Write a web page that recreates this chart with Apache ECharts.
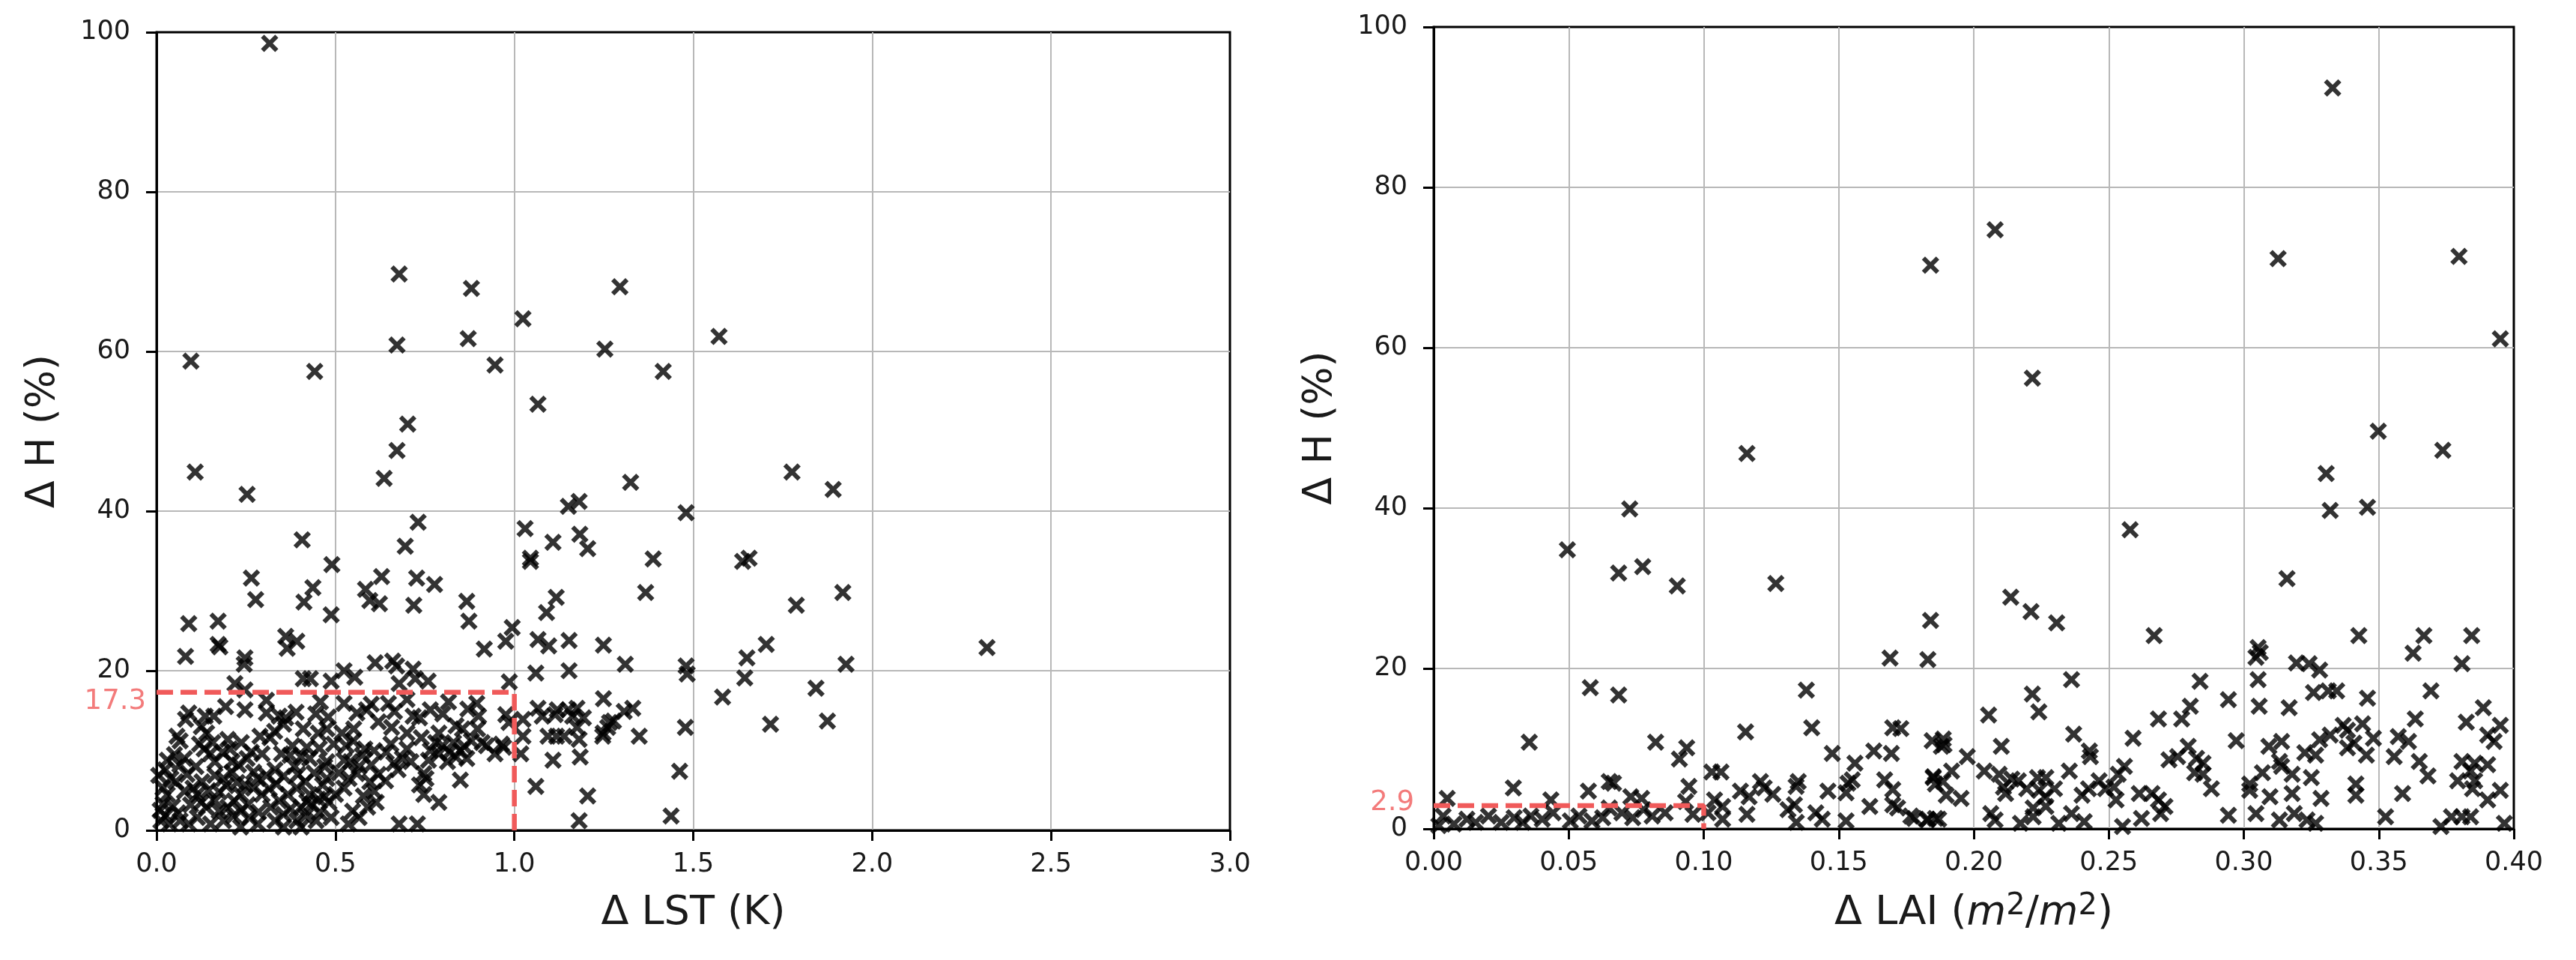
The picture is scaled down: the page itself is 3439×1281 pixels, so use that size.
<!DOCTYPE html>
<html>
<head>
<meta charset="utf-8">
<script src="https://cdn.jsdelivr.net/npm/echarts@6/dist/echarts.min.js"></script>
<style>
html,body{margin:0;padding:0;background:#fff;}
#chart{width:3439px;height:1281px;}
</style>
</head>
<body>
<div id="chart"></div>
<script>
// ---- data: left panel (Δ LST [K], Δ H [%]) ----
const lstPoints = [
[0.316,98.6],[0.678,69.7],[0.880,67.9],[1.295,68.1],[1.024,64.1],[0.672,60.8],[0.871,61.6],[0.096,58.8],[0.442,57.5],[0.946,58.3],[1.253,60.3],[1.416,57.5],[1.066,53.4],[0.702,50.9],[0.672,47.6],[1.572,61.9],
[0.108,44.9],[0.253,42.1],[0.636,44.1],[1.325,43.6],[0.407,36.4],[0.731,38.6],[0.695,35.6],[1.030,37.8],[1.045,34.1],[1.045,33.7],[1.108,36.1],[1.181,41.2],[1.151,40.6],[1.183,37.1],[1.205,35.3],[1.388,34.0],[0.490,33.3],[0.265,31.6],[0.277,28.9],[0.437,30.4],[0.412,28.6],[0.584,30.2],[0.596,28.8],[0.629,31.8],[0.623,28.4],[0.727,31.6],[0.719,28.2],[0.777,30.8],[1.117,29.2],[1.090,27.3],[1.367,29.8],[0.867,28.7],[0.873,26.2],[0.488,27.0],[0.090,25.9],[0.172,26.2],[0.081,21.8],[0.172,23.3],[0.177,23.0],[0.361,24.3],[0.392,23.7],[0.365,22.8],[0.916,22.7],[0.976,23.7],[0.994,25.4],[1.066,23.9],[1.096,23.1],[1.153,23.8],[1.249,23.2],[1.310,20.8],[0.247,21.6],[0.245,20.8],[0.611,21.0],[0.660,21.2],[0.671,20.6],[0.717,20.2],[1.060,19.7],[1.153,20.0],[0.524,20.0],[0.554,19.2],[0.410,19.0],[0.430,19.0],[0.488,18.7],[0.723,19.0],[0.759,18.7],[0.678,18.4],[0.986,18.6],[0.219,18.4],[0.247,17.6],
[1.249,16.5],[0.816,16.1],[0.307,16.3],[0.458,16.1],[0.524,15.9],[0.648,15.9],[0.895,15.9],[0.193,15.5],[1.066,15.3],[1.120,15.1],[1.151,15.1],[1.175,15.3],[1.331,15.3],[1.307,14.9],[0.247,15.1],[0.090,14.7],[0.136,14.3],[0.160,14.3],[0.081,13.9],[0.307,14.7],[0.343,14.3],[0.361,14.1],[0.560,14.7],[0.587,15.1],[0.665,14.9],[0.717,14.3],[0.735,14.1],[0.765,15.1],[0.900,14.3],[0.976,14.5],[0.985,13.5],[1.024,13.9],[1.078,14.3],[1.114,14.5],[1.163,14.3],[1.193,14.1],[1.277,13.7],[1.261,12.9],[1.247,11.8],[1.349,11.8],[0.355,13.3],[0.410,12.7],[0.452,12.2],[0.476,12.7],[0.518,12.2],[0.551,12.7],[0.657,12.9],[0.789,12.2],[0.837,13.1],[0.855,12.7],[0.897,12.7],[1.175,12.9],[1.024,11.8],[1.094,11.8],[1.118,11.8],[1.139,11.8],[1.181,11.4],[0.057,11.8],[0.066,11.2],[0.289,11.8],[0.317,11.6],[0.120,10.8],[0.157,11.0],[0.199,11.4],[0.237,11.0],[0.295,9.6],[0.133,10.2],[0.150,9.6],[0.078,9.0],[0.163,8.6],[0.211,8.6],[0.253,9.0],[0.349,9.6],[0.373,9.4],[0.404,9.2],[0.428,9.0],[0.476,8.6],[0.470,8.0],[0.386,8.0],[0.331,7.6],[0.307,6.9],[0.582,10.2],[0.608,10.0],[0.642,9.8],[0.687,9.0],[0.711,8.6],[0.663,8.4],[0.675,7.6],[0.765,10.0],[0.789,9.6],[0.819,9.8],[0.837,9.2],[0.813,8.6],[0.849,10.0],[0.867,9.0],[0.910,11.0],[0.922,10.6],[0.946,9.6],[0.964,10.8],[0.970,10.4],[1.018,9.6],[1.108,8.8],[1.184,9.2],[0.524,8.8],[0.542,8.6],[0.566,8.0],[0.560,7.1],[0.538,6.5],[0.747,7.1],[0.753,6.5],[0.735,5.7],[0.849,6.3],[0.747,4.5],[0.789,3.5],[1.060,5.5],[1.205,4.3],[1.181,1.2],[0.678,0.8],[0.729,0.8],[0.614,3.5],[0.566,1.6],[0.524,5.3],[0.500,4.5],[0.482,3.5],[0.452,3.9],[0.434,3.3],[0.404,2.9],[0.416,1.8],[0.488,1.6],[0.446,1.2],[0.392,1.2],[0.355,2.0],[0.331,1.2],[0.319,2.9],[0.343,3.7],[0.295,4.5],[0.271,5.3],[0.247,5.7],[0.235,4.5],[0.217,3.7],[0.199,2.9],[0.175,2.4],[0.163,3.7],[0.139,2.9],[0.114,1.6],[0.090,0.8],[0.066,1.2],[0.036,0.8],[0.012,1.2],[0.018,3.3],[0.030,4.5],[0.018,5.3],[0.006,6.9],[0.024,7.6],[0.054,6.1],[0.078,4.9],[0.102,5.3],[0.114,4.5],[0.127,6.1],[0.163,6.9],[0.187,6.5],[0.211,7.3],[0.229,8.2],[0.271,7.3],[0.283,6.5],[0.235,2.4],[0.259,1.6],[0.283,0.8],[0.187,1.2],[0.151,0.8],[0.367,4.5],[0.392,5.3],[0.416,6.1],[0.428,4.5],[0.464,5.7],[0.476,6.5],[0.596,6.1],[0.608,4.9],[0.578,4.3],[0.590,2.9],[0.548,2.4],[0.536,0.8],[0.404,0.4],[0.355,0.4],[0.235,0.4],
[0.010,2.5],[0.025,1.8],[0.045,3.0],[0.060,2.2],[0.040,6.5],[0.065,8.2],[0.085,7.0],[0.095,3.2],[0.050,9.5],[0.030,8.8],
[0.125,3.5],[0.145,5.0],[0.175,4.8],[0.195,5.6],[0.215,1.8],[0.225,6.0],[0.255,3.2],[0.265,9.8],[0.285,2.3],[0.110,8.0],[0.140,12.2],[0.185,9.8],[0.205,10.2],[0.125,13.0],
[0.315,5.2],[0.335,5.8],[0.355,6.8],[0.375,2.7],[0.395,7.0],[0.420,3.6],[0.440,7.2],[0.455,2.2],[0.470,4.2],[0.495,10.8],[0.380,10.6],[0.420,10.4],[0.455,10.3],[0.330,12.4],[0.390,14.8],[0.445,14.6],[0.480,14.2],
[0.510,7.2],[0.530,10.6],[0.550,11.2],[0.575,9.4],[0.600,8.2],[0.620,7.0],[0.640,6.2],[0.655,10.8],[0.700,10.2],[0.740,11.6],[0.760,8.8],[0.780,11.0],[0.800,10.6],[0.830,11.0],[0.860,10.5],[0.880,11.2],[0.700,12.2],[0.620,13.6],[0.600,15.8],[0.700,16.4],[0.800,14.6],[0.870,15.2],
[1.776,44.9],[1.891,42.7],[1.480,39.8],[1.638,33.7],[1.656,34.1],[1.918,29.8],[1.788,28.2],[1.704,23.3],[2.321,22.9],[1.650,21.6],[1.480,20.6],[1.483,19.6],[1.927,20.8],[1.644,19.1],[1.843,17.8],[1.582,16.7],[1.266,13.5],[1.248,12.2],[1.478,12.9],[1.716,13.3],[1.875,13.7],[1.462,7.4],[1.438,1.8]
];
// ---- data: right panel (Δ LAI [m2/m2], Δ H [%]) ----
const laiPoints = [
[0.184,70.3],[0.116,46.8],[0.0495,34.8],[0.0726,39.9],[0.0685,31.9],[0.0774,32.7],[0.0902,30.3],[0.1267,30.6],[0.184,26.0],[0.169,21.3],[0.183,21.1],[0.058,17.6],[0.0685,16.7],[0.138,17.3],[0.140,12.6],[0.1155,12.1],[0.170,12.6],[0.173,12.5],[0.0354,10.8],[0.0822,10.8],[0.0937,10.1],[0.091,8.7],[0.1476,9.4],[0.163,9.7],[0.1695,9.4],[0.156,8.2],[0.1846,11.0],[0.188,10.3],[0.103,7.1],[0.1064,7.1],[0.0295,5.1],[0.005,3.8],[0.065,5.9],[0.0666,5.7],[0.0573,4.7],[0.0434,3.6],[0.073,4.0],[0.077,3.8],[0.0945,5.3],[0.0933,3.4],[0.116,1.8],[0.121,5.9],[0.1224,5.1],[0.1136,4.7],[0.1168,4.0],[0.1256,4.3],[0.135,5.9],[0.1342,5.3],[0.1336,3.0],[0.1312,2.4],[0.146,4.7],[0.1527,4.5],[0.155,6.1],[0.1534,5.7],[0.1615,2.8],[0.167,6.1],[0.170,4.9],[0.170,3.0],[0.1718,2.6],[0.1767,1.6],[0.183,1.2],[0.187,1.2],[0.185,6.5],[0.1886,5.9],[0.104,3.6],[0.107,2.8],[0.107,1.2],[0.1016,2.0],[0.096,1.8],[0.0857,2.0],[0.0809,1.6],[0.0777,2.4],[0.0737,1.4],[0.0697,2.0],[0.065,2.6],[0.0626,1.4],[0.0586,1.0],[0.0538,1.6],[0.0506,1.0],[0.0442,2.0],[0.0402,1.2],[0.036,1.6],[0.033,0.8],[0.0298,1.4],[0.025,0.8],[0.0203,1.6],[0.0155,0.8],[0.0123,1.2],[0.0075,0.6],[0.0035,1.6],[0.0019,0.4],[0.1415,2.0],[0.1439,1.2],[0.1527,1.0],[0.1343,0.8],
[0.3329,92.4],[0.2079,74.7],[0.3127,71.1],[0.3797,71.4],[0.395,61.1],[0.2217,56.2],[0.3498,49.6],[0.3737,47.2],[0.3305,44.3],[0.332,39.7],[0.3458,40.1],[0.2579,37.3],[0.316,31.2],[0.2137,28.9],[0.2212,27.1],[0.2307,25.7],[0.2668,24.1],[0.3426,24.1],[0.3667,24.1],[0.3844,24.1],[0.3627,21.9],[0.3053,22.6],[0.3061,22.0],[0.3045,21.4],[0.3808,20.6],[0.3195,20.7],[0.3242,20.6],[0.3281,19.8],[0.2362,18.6],[0.2838,18.4],[0.3053,18.6],[0.2217,16.8],[0.2241,14.6],[0.2943,16.1],[0.2802,15.3],[0.3057,15.3],[0.3168,15.1],[0.3258,17.0],[0.3313,17.2],[0.3344,17.2],[0.3458,16.3],[0.3693,17.2],[0.2055,14.2],[0.2684,13.7],[0.277,13.7],[0.3635,13.7],[0.3887,15.1],[0.3824,13.3],[0.395,12.9],[0.344,13.1],[0.3368,12.9],[0.1887,11.2],[0.189,10.5],[0.2102,10.3],[0.237,11.8],[0.259,11.3],[0.2972,11.0],[0.314,10.9],[0.3281,11.1],[0.332,11.7],[0.3384,12.3],[0.3408,10.7],[0.348,11.3],[0.3572,11.5],[0.361,10.9],[0.3903,11.7],[0.3927,10.9],[0.1976,9.0],[0.2428,9.7],[0.2432,9.0],[0.2794,10.3],[0.2723,8.6],[0.2755,9.0],[0.2825,8.8],[0.2849,8.2],[0.3093,10.3],[0.3132,8.4],[0.3226,9.5],[0.3266,9.2],[0.3384,10.1],[0.3454,9.2],[0.3557,9.0],[0.365,8.4],[0.3808,8.4],[0.3855,8.2],[0.3840,7.2],[0.3903,8.0],[0.1918,7.2],[0.2039,7.2],[0.185,6.4],[0.1858,5.6],[0.1898,4.2],[0.1953,3.8],[0.2094,6.8],[0.2141,6.2],[0.2110,5.2],[0.2118,4.4],[0.2165,6.0],[0.2196,5.0],[0.2236,6.4],[0.2267,6.4],[0.2243,4.8],[0.2299,5.0],[0.2264,4.0],[0.2354,7.2],[0.2425,5.0],[0.2401,4.2],[0.2464,6.0],[0.2488,5.0],[0.2535,6.8],[0.2558,7.8],[0.2519,5.2],[0.2527,3.6],[0.2613,4.4],[0.2660,4.4],[0.2684,3.6],[0.2708,2.8],[0.2621,1.3],[0.2692,1.9],[0.2818,7.0],[0.2849,6.8],[0.2880,5.0],[0.3022,5.6],[0.3022,4.8],[0.3069,7.0],[0.3097,4.0],[0.314,7.8],[0.3179,6.8],[0.3179,4.4],[0.325,6.4],[0.3286,3.8],[0.3415,5.6],[0.3415,4.2],[0.3588,4.4],[0.3682,6.6],[0.3792,6.0],[0.3847,5.0],[0.3855,6.0],[0.3903,3.6],[0.395,4.8],[0.3525,1.5],[0.2943,1.7],[0.3045,1.9],[0.3132,1.1],[0.3187,1.9],[0.3234,1.1],[0.3266,0.7],[0.3769,1.5],[0.3808,1.5],[0.3840,1.5],[0.3965,0.7],[0.373,0.3],[0.178,1.3],[0.1827,1.1],[0.1858,1.3],[0.2063,1.9],[0.2079,1.1],[0.2173,0.7],[0.222,2.6],[0.222,1.5],[0.2267,2.8],[0.2315,0.7],[0.2362,1.9],[0.2409,0.9],[0.2551,0.3]
];
// thresholds: [x cut, ΔH value]
const lstCut = [1.0, 17.3];
const laiCut = [0.10, 2.9];
// axis ranges / ticks
const lstTicks = [0, 0.5, 1.0, 1.5, 2.0, 2.5, 3.0];
const laiTicks = [0, 0.05, 0.10, 0.15, 0.20, 0.25, 0.30, 0.35, 0.40];
const hTicks = [0, 20, 40, 60, 80, 100];

const FONT = 'DejaVu Sans';
const RED = '#f05a5a';
const X_SYMBOL = 'path://M0,0L10,10M10,0L0,10';

function xAxisCfg(idx, ticks, digits, nameText, rich) {
  return {
    type: 'value', gridIndex: idx,
    min: ticks[0], max: ticks[ticks.length - 1], interval: ticks[1] - ticks[0],
    name: nameText, nameLocation: 'middle', nameGap: 84,
    nameTextStyle: rich ? { rich: rich } : { fontFamily: FONT, fontSize: 54, color: '#1a1a1a' },
    axisLine: { show: true, onZero: false, lineStyle: { color: '#000', width: 3 } },
    axisTick: { show: true, inside: false, length: 14, lineStyle: { color: '#000', width: 3 } },
    axisLabel: { fontFamily: FONT, fontSize: 35, color: '#1a1a1a', margin: 28,
      formatter: v => v.toFixed(digits) },
    splitLine: { show: true, showMinLine: false, showMaxLine: false, lineStyle: { color: '#b8b8b8', width: 2 } }
  };
}
function yAxisCfg(idx) {
  return {
    type: 'value', gridIndex: idx,
    min: hTicks[0], max: hTicks[hTicks.length - 1], interval: hTicks[1] - hTicks[0],
    name: 'Δ H (%)', nameLocation: 'middle', nameGap: 124,
    nameTextStyle: { fontFamily: FONT, fontSize: 54, color: '#1a1a1a' },
    axisLine: { show: true, onZero: false, lineStyle: { color: '#000', width: 3 } },
    axisTick: { show: true, inside: false, length: 14, lineStyle: { color: '#000', width: 3 } },
    axisLabel: { fontFamily: FONT, fontSize: 35, color: '#1a1a1a', margin: 35 },
    splitLine: { show: true, showMinLine: false, showMaxLine: false, lineStyle: { color: '#b8b8b8', width: 2 } }
  };
}
function scatterCfg(idx, pts) {
  return {
    type: 'scatter', xAxisIndex: idx, yAxisIndex: idx, data: pts,
    symbol: X_SYMBOL, symbolSize: 19, z: 3,
    itemStyle: { color: 'rgba(0,0,0,0)', borderColor: '#000', borderWidth: 6 },
    emphasis: { disabled: true }, silent: true, animation: false
  };
}
function cutLineCfg(idx, cut) {
  return {
    type: 'line', xAxisIndex: idx, yAxisIndex: idx,
    data: [[0, cut[1]], [cut[0], cut[1]], [cut[0], 0]],
    symbol: 'none', z: 4, silent: true, animation: false,
    lineStyle: { color: RED, width: 6.5, type: [22, 10] }
  };
}
function cutLabelCfg(idx, cut, dy, dist) {
  return {
    type: 'scatter', xAxisIndex: idx, yAxisIndex: idx,
    data: [[0, cut[1]]], symbolSize: 0, z: 5, silent: true, animation: false,
    label: { show: true, position: 'left', distance: dist, offset: [0, dy],
      formatter: p => String(p.value[1]), fontFamily: FONT, fontSize: 37, color: RED }
  };
}

const laiRich = {
  n: { fontFamily: FONT, fontSize: 54, color: '#1a1a1a' },
  i: { fontFamily: FONT, fontSize: 54, fontStyle: 'italic', color: '#1a1a1a' },
  s: { fontFamily: FONT, fontSize: 40, color: '#1a1a1a', verticalAlign: 'top', padding: [0, 0, 18, 0] }
};

const chart = echarts.init(document.getElementById('chart'), null, { renderer: 'canvas' });
chart.setOption({
  backgroundColor: '#fff',
  animation: false,
  grid: [
    { left: 209, top: 43, width: 1433, height: 1065, show: true, borderColor: '#000', borderWidth: 3, containLabel: false },
    { left: 1914, top: 36, width: 1442, height: 1070, show: true, borderColor: '#000', borderWidth: 3, containLabel: false }
  ],
  xAxis: [
    xAxisCfg(0, lstTicks, 1, 'Δ LST (K)'),
    xAxisCfg(1, laiTicks, 2, '{n|Δ LAI (}{i|m}{s|2}{n|/}{i|m}{s|2}{n|)}', laiRich)
  ],
  yAxis: [yAxisCfg(0), yAxisCfg(1)],
  series: [
    scatterCfg(0, lstPoints),
    cutLineCfg(0, lstCut),
    cutLabelCfg(0, lstCut, 13, 14),
    scatterCfg(1, laiPoints),
    cutLineCfg(1, laiCut),
    cutLabelCfg(1, laiCut, -4, 26)
  ]
});
</script>
</body>
</html>
